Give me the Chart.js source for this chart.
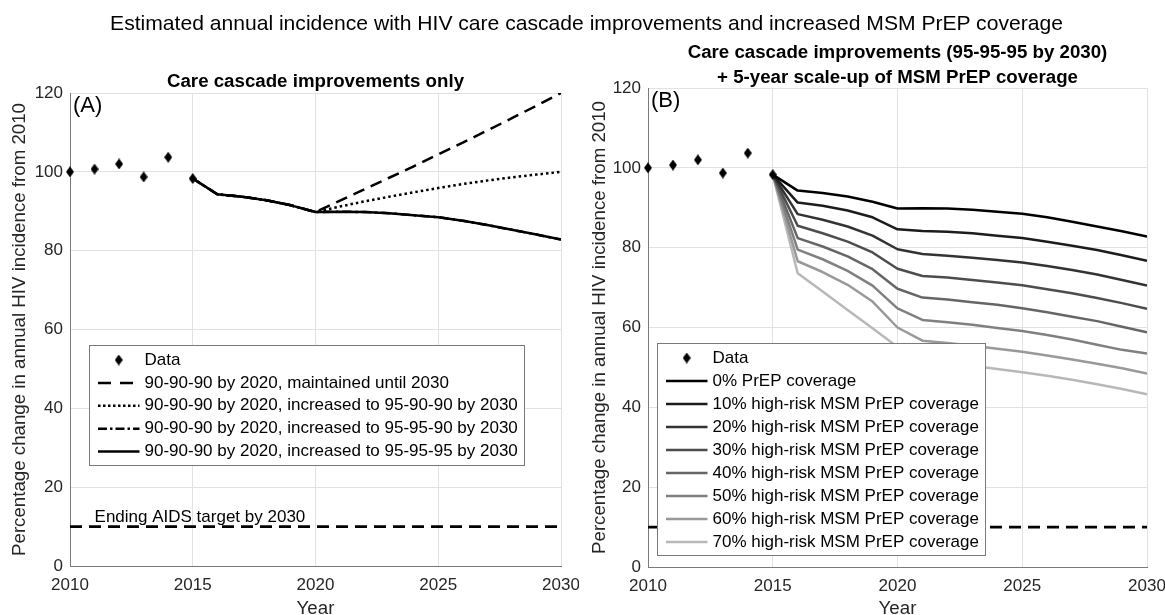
<!DOCTYPE html>
<html><head><meta charset="utf-8">
<script src="https://cdn.jsdelivr.net/npm/chart.js@4.4.0/dist/chart.umd.min.js"></script>
<style>
html,body{margin:0;padding:0;background:#fff;overflow:hidden;}
#wrap{position:relative;width:1165px;height:615px;overflow:hidden;background:#fff;}
#mainTitle{position:absolute;left:0;top:10.7px;width:1173px;text-align:center;font:21.1px/24px "Liberation Sans",Arial,sans-serif;color:#000;white-space:nowrap;}
#cA{position:absolute;left:0;top:0;}
#cB{position:absolute;left:580px;top:0;}
</style></head><body>
<div id="wrap">
<canvas id="cA" width="579" height="630"></canvas>
<canvas id="cB" width="585" height="630"></canvas>
<div id="mainTitle">Estimated annual incidence with HIV care cascade improvements and increased MSM PrEP coverage</div>
</div>
<script>
// ---------- data ----------
const xTicks = [2010, 2015, 2020, 2025, 2030];
const yTicks = [0, 20, 40, 60, 80, 100, 120];

const dataYears  = [2010, 2011, 2012, 2013, 2014, 2015];
const dataValues = [100.0, 100.7, 102.0, 98.7, 103.7, 98.3];

const projYears = [2015, 2016, 2017, 2018, 2019, 2020, 2021, 2022, 2023, 2024, 2025, 2026, 2027, 2028, 2029, 2030];

// Panel A
const maintained909090 = [98.3, 94.3, 93.7, 92.8, 91.5, 89.8, 92.7, 95.6, 98.5, 101.4, 104.4, 107.4, 110.5, 113.6, 116.8, 120.0];
const to959090         = [98.3, 94.3, 93.7, 92.8, 91.5, 89.8, 91.2, 92.5, 93.7, 94.8, 95.9, 96.9, 97.8, 98.6, 99.3, 100.0];
const to959590         = [98.3, 94.3, 93.7, 92.8, 91.5, 89.8, 89.9, 89.8, 89.5, 89.0, 88.5, 87.6, 86.5, 85.3, 84.1, 82.8];
const to959595         = [98.3, 94.3, 93.7, 92.8, 91.5, 89.8, 89.9, 89.8, 89.5, 89.0, 88.5, 87.6, 86.5, 85.3, 84.1, 82.8];

// Panel B
const prep0  = [98.3, 94.3, 93.7, 92.8, 91.5, 89.8, 89.9, 89.8, 89.5, 89.0, 88.5, 87.6, 86.5, 85.3, 84.1, 82.8];
const prep10 = [98.3, 91.3, 90.5, 89.3, 87.6, 84.6, 84.2, 84.0, 83.6, 83.0, 82.4, 81.5, 80.5, 79.4, 78.1, 76.7];
const prep20 = [98.3, 88.4, 87.0, 85.3, 83.0, 79.6, 78.4, 78.0, 77.5, 76.9, 76.3, 75.4, 74.4, 73.3, 71.9, 70.5];
const prep30 = [98.3, 85.5, 83.6, 81.5, 78.8, 74.7, 72.9, 72.5, 71.9, 71.3, 70.6, 69.6, 68.6, 67.4, 66.1, 64.7];
const prep40 = [98.3, 82.4, 80.3, 77.8, 74.6, 69.7, 67.5, 67.0, 66.3, 65.7, 64.8, 63.8, 62.7, 61.6, 60.2, 58.8];
const prep50 = [98.3, 79.5, 77.1, 74.2, 70.5, 64.8, 61.9, 61.3, 60.7, 59.9, 59.1, 58.1, 57.0, 55.7, 54.4, 53.5];
const prep60 = [98.3, 76.6, 73.9, 70.7, 66.5, 60.0, 56.7, 56.1, 55.4, 54.7, 53.9, 53.0, 52.0, 50.9, 49.8, 48.5];
const prep70 = [98.3, 73.6, 69.0, 64.4, 59.8, 55.1, 51.6, 51.0, 50.4, 49.6, 48.8, 47.9, 46.9, 45.8, 44.6, 43.3];

const prepLabels = ['0% PrEP coverage', '10% high-risk MSM PrEP coverage', '20% high-risk MSM PrEP coverage',
  '30% high-risk MSM PrEP coverage', '40% high-risk MSM PrEP coverage', '50% high-risk MSM PrEP coverage',
  '60% high-risk MSM PrEP coverage', '70% high-risk MSM PrEP coverage'];
const prepSeries = [prep0, prep10, prep20, prep30, prep40, prep50, prep60, prep70];
const prepColors = ['#000000', '#1c1c1c', '#333333', '#4d4d4d', '#666666', '#808080', '#999999', '#b8b8b8'];

const targetYears  = [2010, 2030];
const targetValues = [10, 10];

// ---------- helpers ----------
const FONT = '"Liberation Sans", Arial, sans-serif';
Chart.defaults.font.family = FONT;
Chart.defaults.color = '#262626';

const pts = (xs, ys) => xs.map((x, i) => ({x, y: ys[i]}));

function makeDiamond(w, h, color) {
  const c = document.createElement('canvas'); c.width = w; c.height = h;
  const g = c.getContext('2d'); g.fillStyle = color; g.beginPath();
  g.moveTo(w / 2, 0); g.lineTo(w, h / 2); g.lineTo(w / 2, h); g.lineTo(0, h / 2); g.closePath(); g.fill();
  return c;
}
const diamond = makeDiamond(8, 11, '#000');

const noteTitles = {
  id: 'noteTitles',
  afterDatasetsDraw(chart, args, o) {
    const {ctx, chartArea: ca, scales} = chart;
    ctx.save();
    (o.notes || []).forEach(n => {
      ctx.font = n.font; ctx.fillStyle = '#000';
      ctx.textAlign = 'left'; ctx.textBaseline = 'alphabetic';
      ctx.fillText(n.text, scales.x.getPixelForValue(n.x), scales.y.getPixelForValue(n.y));
    });
    ctx.font = o.titleFont; ctx.fillStyle = '#000';
    ctx.textAlign = 'center'; ctx.textBaseline = 'middle';
    (o.title || []).forEach((line, i) => ctx.fillText(line, (ca.left + ca.right) / 2, ca.top - o.titleOffsets[i]));
    ctx.restore();
  }
};

const boxLegend = {
  id: 'boxLegend',
  afterDraw(chart, args, o) {
    const {ctx, chartArea: ca} = chart;
    const sets = chart.data.datasets.filter(d => d.inLegend !== false);
    ctx.save();
    ctx.font = o.font;
    const textW = Math.max(...sets.map(d => ctx.measureText(d.label).width));
    const x0 = Math.round(ca.left + o.dx), y0 = Math.round(ca.top + o.dy);
    const w = Math.round(o.textX + textW + o.padRight);
    const h = Math.round(o.firstRow + (sets.length - 1) * o.rowH + o.padBottom);
    ctx.fillStyle = '#fff'; ctx.fillRect(x0, y0, w, h);
    ctx.strokeStyle = '#7a7a7a'; ctx.lineWidth = 1; ctx.strokeRect(x0 + 0.5, y0 + 0.5, w, h);
    sets.forEach((d, i) => {
      const y = y0 + o.firstRow + i * o.rowH;
      if (d.showLine === false) {
        const img = d.pointStyle;
        ctx.drawImage(img, x0 + (o.sampleL + o.sampleR) / 2 - img.width / 2, y - img.height / 2);
      } else {
        ctx.beginPath();
        ctx.setLineDash(d.legendDash || d.borderDash || []);
        ctx.lineWidth = d.borderWidth; ctx.strokeStyle = d.borderColor;
        ctx.moveTo(x0 + o.sampleL, y); ctx.lineTo(x0 + o.sampleR, y); ctx.stroke();
        ctx.setLineDash([]);
      }
      ctx.fillStyle = '#000'; ctx.textAlign = 'left'; ctx.textBaseline = 'middle';
      ctx.fillText(d.label, x0 + o.textX, y);
    });
    ctx.restore();
  }
};

function lineSet(label, xs, ys, color, dash, legendDash, extra) {
  return Object.assign({
    label, data: pts(xs, ys), borderColor: color, backgroundColor: color,
    borderWidth: 2.5, borderDash: dash, legendDash: legendDash, pointRadius: 0,
    fill: false, tension: 0, borderCapStyle: 'butt', borderJoinStyle: 'round'
  }, extra || {});
}

function dataSet() {
  return {
    label: 'Data', data: pts(dataYears, dataValues), showLine: false,
    pointStyle: diamond, pointRadius: 5, borderColor: '#000', backgroundColor: '#000', clip: false
  };
}

function makeScales(yWidth, xHeight) {
  return {
    x: {
      type: 'linear', min: 2010, max: 2030,
      afterBuildTicks: s => { s.ticks = xTicks.map(v => ({value: v})); },
      ticks: {padding: 9, font: {size: 17}, color: '#262626', callback: v => String(v), maxRotation: 0},
      grid: {color: '#e2e2e2', lineWidth: 1, drawTicks: false},
      border: {color: '#7a7a7a', width: 1},
      title: {display: true, text: 'Year', font: {size: 18.7}, color: '#262626', padding: {top: 0, bottom: 10.3}},
      afterFit: s => { s.height = xHeight; s.paddingLeft = 0; s.paddingRight = 0; }
    },
    y: {
      type: 'linear', min: 0, max: 120,
      afterBuildTicks: s => { s.ticks = yTicks.map(v => ({value: v})); },
      ticks: {padding: 7, font: {size: 17}, color: '#262626', callback: v => String(v)},
      grid: {color: '#e2e2e2', lineWidth: 1, drawTicks: false},
      border: {color: '#7a7a7a', width: 1},
      title: {display: true, text: 'Percentage change in annual HIV incidence from 2010', font: {size: 18.7}, color: '#262626', padding: {top: 9, bottom: 0}},
      afterFit: s => { s.width = yWidth; }
    }
  };
}

const legendCommon = {font: '17px ' + FONT, sampleL: 9, sampleR: 50.5, textX: 55.5, firstRow: 15, padBottom: 13, padRight: 6};

// ---------- Panel A ----------
new Chart(document.getElementById('cA'), {
  type: 'line',
  data: {
    datasets: [
      dataSet(),
      lineSet('90-90-90 by 2020, maintained until 2030', projYears, maintained909090, '#000', [12, 7], [13, 9]),
      lineSet('90-90-90 by 2020, increased to 95-90-90 by 2030', projYears, to959090, '#000', [2.5, 3], [2.5, 2.5]),
      lineSet('90-90-90 by 2020, increased to 95-95-90 by 2030', projYears, to959590, '#000', [9, 4, 2.5, 4], [9, 3, 2.5, 3]),
      lineSet('90-90-90 by 2020, increased to 95-95-95 by 2030', projYears, to959595, '#000', [], []),
      lineSet('Ending AIDS target by 2030', targetYears, targetValues, '#000', [12, 7], [12, 7], {inLegend: false, borderWidth: 2.8})
    ]
  },
  options: {
    responsive: false, animation: false, events: [],
    layout: {padding: {top: 93, right: 18, left: 0, bottom: 0}},
    scales: makeScales(70, 64),
    plugins: {
      legend: {display: false}, tooltip: {enabled: false}, title: {display: false},
      noteTitles: {
        title: ['Care cascade improvements only'], titleOffsets: [10.9], titleFont: 'bold 18.7px ' + FONT,
        notes: [
          {text: '(A)', x: 2010.12, y: 115.3, font: '22px ' + FONT},
          {text: 'Ending AIDS target by 2030', x: 2011.0, y: 11.25, font: '17px ' + FONT}
        ]
      },
      boxLegend: Object.assign({dx: 19.3, dy: 251.7, rowH: 22.9}, legendCommon)
    }
  },
  plugins: [noteTitles, boxLegend]
});

// ---------- Panel B ----------
const setsB = [dataSet()];
prepSeries.forEach((s, i) => setsB.push(lineSet(prepLabels[i], projYears, s, prepColors[i], [], [])));
setsB.push(lineSet('Ending AIDS target by 2030', targetYears, targetValues, '#000', [12, 7], [12, 7], {inLegend: false, borderWidth: 2.8}));

new Chart(document.getElementById('cB'), {
  type: 'line',
  data: {datasets: setsB},
  options: {
    responsive: false, animation: false, events: [],
    layout: {padding: {top: 88, right: 18, left: 0, bottom: 0}},
    scales: makeScales(68, 63),
    plugins: {
      legend: {display: false}, tooltip: {enabled: false}, title: {display: false},
      noteTitles: {
        title: ['Care cascade improvements (95-95-95 by 2030)', '+ 5-year scale-up of MSM PrEP coverage'],
        titleOffsets: [34.9, 10.2], titleFont: 'bold 18.7px ' + FONT,
        notes: [
          {text: '(B)', x: 2010.12, y: 115.2, font: '22px ' + FONT}
        ]
      },
      boxLegend: Object.assign({dx: 9.3, dy: 254.7, rowH: 23.0}, legendCommon)
    }
  },
  plugins: [noteTitles, boxLegend]
});
</script>
</body></html>
